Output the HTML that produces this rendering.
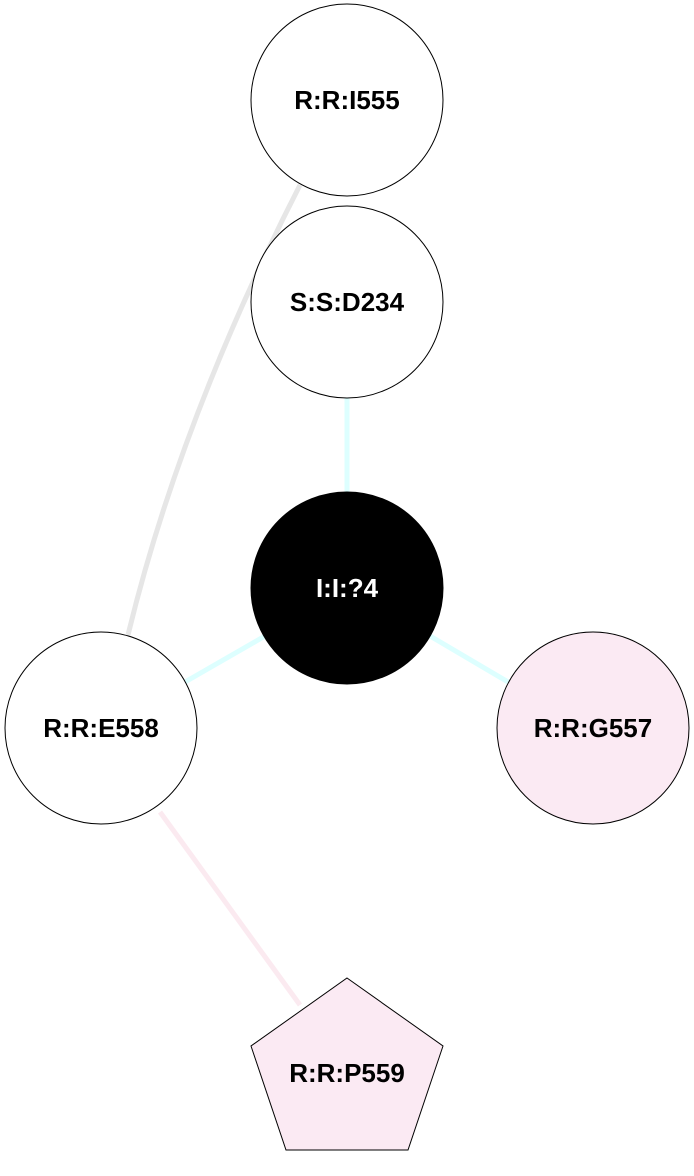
<!DOCTYPE html>
<html><head><meta charset="utf-8"><style>
html,body{margin:0;padding:0;background:#fff;}
svg{display:block;}
text{font-family:"Liberation Sans",Arial,sans-serif;font-weight:bold;font-size:26px;text-anchor:middle;dominant-baseline:central;}
</style></head><body>
<svg width="694" height="1176" viewBox="0 0 694 1176" xmlns="http://www.w3.org/2000/svg">
<path d="M300,185 Q180,420 128,635" fill="none" stroke="#e6e6e6" stroke-width="5"/>
<line x1="347" y1="398" x2="347" y2="492" stroke="#ddffff" stroke-width="5"/>
<line x1="265" y1="636" x2="185" y2="682" stroke="#ddffff" stroke-width="5"/>
<line x1="430" y1="636" x2="508" y2="682" stroke="#ddffff" stroke-width="5"/>
<line x1="160" y1="812" x2="300" y2="1005" stroke="#fbeaf0" stroke-width="5"/>
<circle cx="347" cy="100" r="96" fill="#fff" stroke="#000" stroke-width="1"/>
<text x="347" y="100">R:R:I555</text>
<circle cx="347" cy="302" r="96" fill="#fff" stroke="#000" stroke-width="1"/>
<text x="347" y="302">S:S:D234</text>
<circle cx="347" cy="588" r="96" fill="#000" stroke="#000" stroke-width="1"/>
<text x="347" y="588" fill="#fff">I:I:?4</text>
<circle cx="101" cy="728" r="96" fill="#fff" stroke="#000" stroke-width="1"/>
<text x="101" y="728">R:R:E558</text>
<circle cx="593" cy="728" r="96" fill="#fbeaf3" stroke="#000" stroke-width="1"/>
<text x="593" y="728">R:R:G557</text>
<polygon points="347,978 443,1046 408,1150 286,1150 251,1046" fill="#fbeaf3" stroke="#000" stroke-width="1"/>
<text x="347" y="1073">R:R:P559</text>
</svg>
</body></html>
